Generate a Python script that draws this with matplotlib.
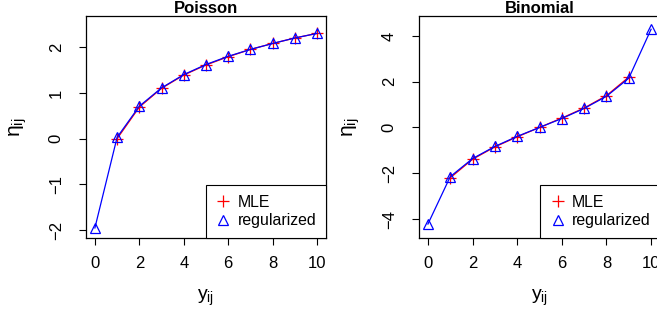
import matplotlib
matplotlib.use("Agg")
import matplotlib.pyplot as plt
from matplotlib.lines import Line2D

plt.rcParams['font.family'] = ['Liberation Sans', 'DejaVu Sans']

# counts y_ij
y_mle = [1, 2, 3, 4, 5, 6, 7, 8, 9, 10]
y_reg = [0, 1, 2, 3, 4, 5, 6, 7, 8, 9, 10]

# Poisson: eta estimates
pois_mle = [0.0, 0.69, 1.10, 1.39, 1.61, 1.79, 1.95, 2.08, 2.20, 2.30]
pois_reg = [-1.95, 0.03, 0.71, 1.11, 1.40, 1.62, 1.80, 1.95, 2.08, 2.20, 2.30]

# Binomial: eta estimates (MLE undefined at 0 and 10)
y_mle_bin = [1, 2, 3, 4, 5, 6, 7, 8, 9]
bin_mle = [-2.20, -1.39, -0.85, -0.41, 0.0, 0.41, 0.85, 1.39, 2.20]
bin_reg = [-4.22, -2.15, -1.36, -0.83, -0.39, 0.0, 0.39, 0.83, 1.36, 2.15, 4.29]

W, H = 657, 317
fig = plt.figure(figsize=(W / 100, H / 100), dpi=100)

panels = [
    ("Poisson", y_mle, pois_mle, pois_reg, 86, 326, (-2.17, 2.68), [-2, -1, 0, 1, 2]),
    ("Binomial", y_mle_bin, bin_mle, bin_reg, 419, 660, (-4.83, 4.87), [-4, -2, 0, 2, 4]),
]

for title, xm, ym, yr, x0, x1, ylim, yticks in panels:
    ax = fig.add_axes([x0 / W, 79 / H, (x1 - x0) / W, 222 / H])
    ax.plot(xm, ym, color="red", lw=0.9, marker="+", ms=8, mew=0.9)
    ax.plot(y_reg, yr, color="blue", lw=0.9, marker="^", ms=7, mfc="none", mew=0.9)
    ax.set_xlim(-0.4, 10.4)
    ax.set_ylim(*ylim)
    ax.set_xticks([0, 2, 4, 6, 8, 10])
    ax.set_yticks(yticks)
    ax.set_yticklabels([str(t).replace("-", "\u2212") for t in yticks],
                       rotation=90, va="center")
    ax.tick_params(labelsize=12, length=5, width=0.8, pad=8)
    ax.tick_params(axis="y", pad=11)
    for s in ax.spines.values():
        s.set_linewidth(0.9)
    ax.set_title(title, fontsize=12, fontweight="bold", pad=1)
    ax.set_xlabel(r"y$_{\mathregular{ij}}$", fontsize=14, labelpad=12)
    ax.set_ylabel(r"η$_{\mathregular{ij}}$", fontsize=15, labelpad=14)
    handles = [
        Line2D([], [], color="red", marker="+", ls="none", ms=8, mew=0.9),
        Line2D([], [], color="blue", marker="^", ls="none", ms=7, mfc="none", mew=0.9),
    ]
    leg = ax.legend(handles, ["MLE", "regularized"], loc="lower right",
                    borderaxespad=0, fancybox=False, framealpha=1,
                    edgecolor="black", fontsize=11.4, handlelength=1.0,
                    handletextpad=0.4, borderpad=0.6, labelspacing=0.25)
    leg.get_frame().set_linewidth(0.8)

fig.savefig("out.png", dpi=100)
